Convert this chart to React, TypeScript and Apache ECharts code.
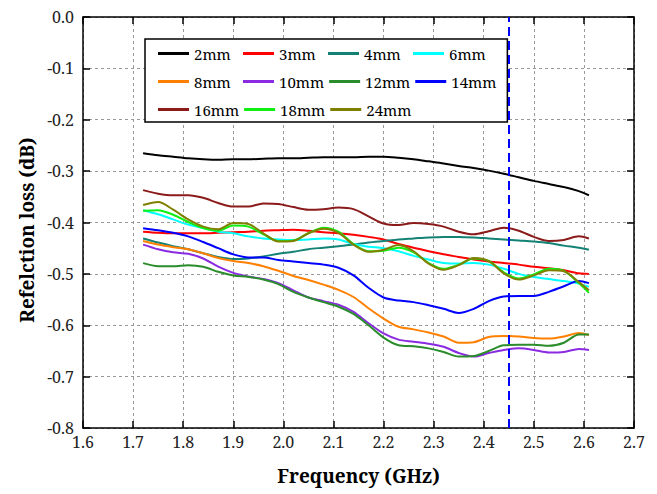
import React, { useEffect, useRef } from "react";
import * as echarts from "echarts";

const freq = [1.72, 1.75, 1.78, 1.81, 1.84, 1.87, 1.9, 1.93, 1.96, 1.99, 2.02, 2.05, 2.08, 2.11, 2.14, 2.17, 2.2, 2.23, 2.26, 2.29, 2.32, 2.35, 2.38, 2.41, 2.44, 2.47, 2.5, 2.53, 2.56, 2.59, 2.61];

const s2mm = [-0.265, -0.269, -0.272, -0.275, -0.277, -0.278, -0.277, -0.277, -0.276, -0.275, -0.275, -0.274, -0.273, -0.273, -0.273, -0.272, -0.272, -0.274, -0.277, -0.281, -0.285, -0.29, -0.294, -0.299, -0.305, -0.312, -0.319, -0.325, -0.331, -0.339, -0.347];
const s3mm = [-0.418, -0.42, -0.421, -0.421, -0.421, -0.42, -0.419, -0.418, -0.416, -0.415, -0.414, -0.416, -0.419, -0.421, -0.424, -0.428, -0.433, -0.442, -0.449, -0.456, -0.462, -0.467, -0.472, -0.476, -0.479, -0.482, -0.486, -0.489, -0.493, -0.499, -0.5];
const s4mm = [-0.431, -0.439, -0.446, -0.452, -0.46, -0.467, -0.471, -0.47, -0.466, -0.461, -0.457, -0.452, -0.449, -0.446, -0.443, -0.439, -0.436, -0.433, -0.431, -0.429, -0.428, -0.428, -0.429, -0.431, -0.433, -0.435, -0.437, -0.44, -0.445, -0.449, -0.453];
const s6mm = [-0.376, -0.384, -0.394, -0.404, -0.411, -0.418, -0.421, -0.427, -0.431, -0.433, -0.434, -0.433, -0.431, -0.433, -0.442, -0.447, -0.45, -0.456, -0.465, -0.472, -0.479, -0.48, -0.479, -0.482, -0.49, -0.5, -0.506, -0.51, -0.514, -0.519, -0.525];
const s8mm = [-0.436, -0.443, -0.448, -0.452, -0.46, -0.469, -0.475, -0.479, -0.485, -0.494, -0.504, -0.512, -0.521, -0.531, -0.545, -0.567, -0.587, -0.603, -0.608, -0.614, -0.622, -0.634, -0.633, -0.623, -0.621, -0.622, -0.625, -0.626, -0.622, -0.615, -0.619];
const s10mm = [-0.443, -0.452, -0.458, -0.461, -0.47, -0.486, -0.498, -0.505, -0.51, -0.518, -0.532, -0.546, -0.553, -0.56, -0.574, -0.596, -0.616, -0.628, -0.632, -0.636, -0.642, -0.654, -0.661, -0.654, -0.648, -0.645, -0.648, -0.653, -0.652, -0.646, -0.648];
const s12mm = [-0.479, -0.485, -0.485, -0.483, -0.486, -0.496, -0.503, -0.506, -0.511, -0.52, -0.535, -0.546, -0.555, -0.564, -0.578, -0.6, -0.624, -0.639, -0.641, -0.645, -0.652, -0.661, -0.66, -0.65, -0.639, -0.638, -0.638, -0.64, -0.634, -0.618, -0.618];
const s14mm = [-0.411, -0.415, -0.42, -0.427, -0.438, -0.45, -0.462, -0.468, -0.468, -0.473, -0.476, -0.479, -0.482, -0.488, -0.503, -0.527, -0.546, -0.552, -0.555, -0.561, -0.568, -0.576, -0.568, -0.553, -0.544, -0.543, -0.543, -0.535, -0.524, -0.514, -0.518];
const s16mm = [-0.337, -0.344, -0.347, -0.347, -0.352, -0.362, -0.369, -0.369, -0.363, -0.364, -0.37, -0.375, -0.374, -0.371, -0.374, -0.388, -0.402, -0.405, -0.401, -0.403, -0.408, -0.418, -0.423, -0.417, -0.41, -0.416, -0.428, -0.436, -0.434, -0.427, -0.431];
const s18mm = [-0.377, -0.376, -0.385, -0.399, -0.411, -0.416, -0.406, -0.408, -0.423, -0.436, -0.435, -0.421, -0.41, -0.418, -0.442, -0.456, -0.455, -0.449, -0.458, -0.479, -0.49, -0.482, -0.47, -0.475, -0.497, -0.509, -0.501, -0.49, -0.494, -0.518, -0.537];
const s24mm = [-0.366, -0.36, -0.375, -0.394, -0.408, -0.413, -0.401, -0.403, -0.421, -0.437, -0.436, -0.421, -0.412, -0.42, -0.443, -0.457, -0.453, -0.444, -0.456, -0.48, -0.492, -0.483, -0.469, -0.475, -0.499, -0.511, -0.503, -0.493, -0.495, -0.516, -0.532];

const seriesNames = ["2mm", "3mm", "4mm", "6mm", "8mm", "10mm", "12mm", "14mm", "16mm", "18mm", "24mm"];
const seriesValues = [s2mm, s3mm, s4mm, s6mm, s8mm, s10mm, s12mm, s14mm, s16mm, s18mm, s24mm];
const seriesColors = ["#000000", "#ff0000", "#138274", "#00ffff", "#ff8000", "#8a2be2", "#2a8c2a", "#0000ff", "#8b1a1a", "#11ee11", "#808000"];
// draw order so that overlapping curves stack like the reference
const drawOrder = [0, 8, 1, 2, 3, 4, 5, 6, 7, 9, 10];
const markerFreq = 2.45;

const FONT = "Noto Serif";

export default function App() {
  const ref = useRef<HTMLDivElement>(null);
  useEffect(() => {
    if (!ref.current) return;
    const chart = echarts.init(ref.current, undefined, { renderer: "svg" });
    const series: any[] = drawOrder.map((i) => ({
      name: seriesNames[i],
      type: "line",
      data: freq.map((f, k) => [f, seriesValues[i][k]]),
      showSymbol: false,
      symbol: "none",
      smooth: 0.3,
      lineStyle: { width: 2, color: seriesColors[i] },
      itemStyle: { color: seriesColors[i] },
      z: 3,
    }));
    series.push({
      name: "marker",
      type: "line",
      data: [],
      markLine: {
        silent: true,
        symbol: "none",
        label: { show: false },
        lineStyle: { color: "#0000ff", width: 2, type: [9, 5] },
        data: [{ xAxis: markerFreq }],
      },
    });
    chart.setOption({
      animation: false,
      backgroundColor: "#ffffff",
      textStyle: { fontFamily: FONT },
      grid: { left: 83, right: 23, top: 17, bottom: 66, containLabel: false },
      legend: {
        data: seriesNames,
        left: 145,
        top: 39,
        width: 350,
        orient: "horizontal",
        icon: "rect",
        itemWidth: 31,
        itemHeight: 3,
        itemGap: 5,
        padding: [3, 11, 1, 13],
        borderColor: "#000",
        borderWidth: 1.5,
        backgroundColor: "#fff",
        textStyle: { fontFamily: FONT, fontSize: 15, color: "#000", width: 44, lineHeight: 23 },
      },
      xAxis: [
        {
          type: "value",
          min: 1.6,
          max: 2.7,
          interval: 0.1,
          name: "Frequency (GHz)",
          nameLocation: "middle",
          nameGap: 38,
          nameTextStyle: { fontFamily: FONT, fontSize: 19, fontWeight: "bold", color: "#000" },
          axisLine: { show: true, onZero: false, lineStyle: { color: "#000", width: 1.5 } },
          axisTick: { show: true, inside: true, length: 7, lineStyle: { color: "#000", width: 1.5 } },
          axisLabel: { fontFamily: FONT, fontSize: 16, color: "#222", margin: 6, formatter: (v: number) => v.toFixed(1) },
          splitLine: { show: true, lineStyle: { color: "#999", width: 1, type: [3, 3] } },
        },
        {
          type: "value",
          position: "top",
          min: 1.6,
          max: 2.7,
          interval: 0.1,
          axisLine: { show: true, onZero: false, lineStyle: { color: "#000", width: 1.5 } },
          axisTick: { show: true, inside: true, length: 7, lineStyle: { color: "#000", width: 1.5 } },
          axisLabel: { show: false },
          splitLine: { show: false },
        },
      ],
      yAxis: [
        {
          type: "value",
          min: -0.8,
          max: 0,
          interval: 0.1,
          name: "Refelction loss (dB)",
          nameLocation: "middle",
          nameGap: 31,
          nameTextStyle: { fontFamily: FONT, fontSize: 19, fontWeight: "bold", color: "#000", padding: [0, 15, 0, 0] },
          axisLine: { show: true, onZero: false, lineStyle: { color: "#000", width: 1.5 } },
          axisTick: { show: true, inside: true, length: 7, lineStyle: { color: "#000", width: 1.5 } },
          axisLabel: { fontFamily: FONT, fontSize: 16, color: "#222", margin: 9, formatter: (v: number) => v.toFixed(1) },
          splitLine: { show: true, lineStyle: { color: "#999", width: 1, type: [3, 3] } },
        },
        {
          type: "value",
          position: "right",
          min: -0.8,
          max: 0,
          interval: 0.1,
          axisLine: { show: true, onZero: false, lineStyle: { color: "#000", width: 1.5 } },
          axisTick: { show: true, inside: true, length: 7, lineStyle: { color: "#000", width: 1.5 } },
          axisLabel: { show: false },
          splitLine: { show: false },
        },
      ],
      series,
    });
    return () => chart.dispose();
  }, []);
  return <div ref={ref} style={{ position: "absolute", left: 0, top: 0, width: 657, height: 494 }} />;
}
